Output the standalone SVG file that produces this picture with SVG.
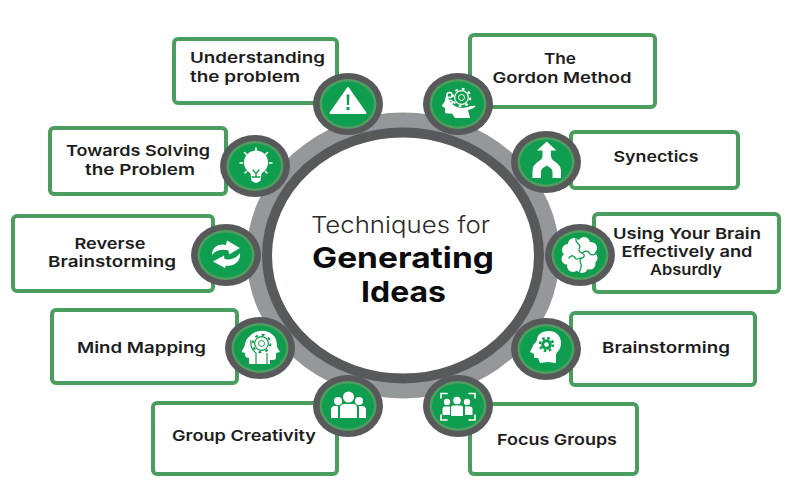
<svg xmlns="http://www.w3.org/2000/svg" width="800" height="500" viewBox="0 0 800 500">
<style>
.box{fill:#fff;stroke:#4a9d5e;stroke-width:4}
.lbl{font-family:Inter,"Liberation Sans",sans-serif;font-weight:600;font-size:15px;fill:#1d1d1d;text-anchor:middle}
.ttl{font-family:Inter,"Liberation Sans",sans-serif;font-weight:700;font-size:29px;fill:#0c0c0c;text-anchor:middle}
.w{fill:#fff}
.g{fill:#0f9d4f}
.ws{fill:none;stroke:#fff;stroke-width:1.6;stroke-linecap:round}
.gl{fill:none;stroke:#0f9d4f;stroke-width:1.3;stroke-linecap:round}
</style>
<defs>
<g id="badge">
<ellipse rx="35" ry="31" fill="#58595b"/>
<ellipse rx="28.500" ry="25" fill="#4f9e5f"/>
<ellipse rx="26" ry="22.500" fill="#0f9d4f"/>
</g>
<g id="gear">
<circle r="6.800" fill="none" stroke="currentColor" stroke-width="1.200"/>
<circle r="8.800" fill="none" stroke="currentColor" stroke-width="2" stroke-dasharray="2.800 4.110"/>
<circle r="3" fill="none" stroke="currentColor" stroke-width="1"/>
</g>
</defs>
<rect width="800" height="500" fill="#fff"/>
<g id="connectors">
<ellipse cx="403" cy="255.500" rx="148.500" ry="135" fill="none" stroke="#96979a" stroke-width="16"/>
<ellipse cx="403" cy="255.500" rx="136" ry="123" fill="#fff" stroke="#58595b" stroke-width="10"/>
</g>
<g id="center">
<text x="400.500" y="233" text-anchor="middle" font-family="Inter,'Liberation Sans',sans-serif" font-weight="300" font-size="23" fill="#2b2b2b" textLength="179" lengthAdjust="spacingAndGlyphs">Techniques for</text>
<text class="ttl" x="403" y="268" textLength="182" lengthAdjust="spacingAndGlyphs">Generating</text>
<text class="ttl" x="403.500" y="302" textLength="85" lengthAdjust="spacingAndGlyphs">Ideas</text>
</g>
<g id="n-understanding">
<rect class="box" x="174" y="39" width="163" height="64" rx="4"/>
<text class="lbl" x="257.500" y="63" textLength="135" lengthAdjust="spacingAndGlyphs">Understanding</text>
<text class="lbl" x="245" y="82" textLength="110" lengthAdjust="spacingAndGlyphs">the problem</text>
<use href="#badge" x="348" y="104"/>
<path class="w" d="M348 88L365.500 113H330.500Z" stroke="#fff" stroke-width="2" stroke-linejoin="round"/>
<path class="g" d="M346.600 94.500H349.400L349 105H347ZM346.500 107H349.500V110H346.500Z"/>
</g>
<g id="n-gordon">
<rect class="box" x="470" y="35" width="185" height="72" rx="4"/>
<text class="lbl" x="560" y="64" textLength="32" lengthAdjust="spacingAndGlyphs">The</text>
<text class="lbl" x="562" y="83" textLength="139" lengthAdjust="spacingAndGlyphs">Gordon Method</text>
<use href="#badge" x="458" y="104"/>
<path class="w" d="M447 94C445 98 445 100 445 101L441.700 106L445 108V112Q445 114 449 113.500H452L455 118H470L468 110C472 109 474 108 476 106C472 105 468 108 462 108C455 108 448 102 447 94Z"/>
<g transform="translate(461.500,97.500)" color="#fff"><use href="#gear"/></g>
<circle cx="449.500" cy="95" r="2.600" fill="none" stroke="#fff" stroke-width="1.500"/>
<circle cx="450" cy="102.500" r="2.300" fill="none" stroke="#fff" stroke-width="1.500"/>
</g>
<g id="n-towards">
<rect class="box" x="50" y="128" width="176" height="66" rx="4"/>
<text class="lbl" x="138" y="156" textLength="144" lengthAdjust="spacingAndGlyphs">Towards Solving</text>
<text class="lbl" x="140" y="175" textLength="110" lengthAdjust="spacingAndGlyphs">the Problem</text>
<use href="#badge" x="255" y="166"/>
<circle class="w" cx="256" cy="162.500" r="12"/>
<path class="w" d="M250 170H262L260.500 181L256 183L251.500 181Z"/>
<path class="gl" d="M253 170L256 173.500L259 170M256 173.500V176M252 177H260"/>
<path class="ws" d="M256 148V151M244.500 152.500L246.500 154.500M267.500 152.500L265.500 154.500M240 163H242.500M272 163H269.500M245 173L246.500 171.500M267 173L265.500 171.500"/>
</g>
<g id="n-synectics">
<rect class="box" x="571" y="132" width="167" height="56" rx="4"/>
<text class="lbl" x="656" y="162" textLength="85" lengthAdjust="spacingAndGlyphs">Synectics</text>
<use href="#badge" x="546" y="162"/>
<path class="w" d="M546.700 141.500L556.500 150.500H551V156Q551 159 554 161Q561 165 561 171V178H552.500V172Q552.500 169 549 167L546.700 165.500L544.500 167Q541 169 541 172V178H532.500V171Q532.500 165 539 161Q542.500 159 542.500 156V150.500H537Z"/>
</g>
<g id="n-reverse">
<rect class="box" x="13" y="216" width="200" height="75" rx="4"/>
<text class="lbl" x="110" y="249" textLength="71" lengthAdjust="spacingAndGlyphs">Reverse</text>
<text class="lbl" x="112" y="267" textLength="128" lengthAdjust="spacingAndGlyphs">Brainstorming</text>
<use href="#badge" x="226" y="255"/>
<path class="w" d="M212 255C212 247 219 243 226 245L227 240.500L240 248L229 254.500L228.500 250.500C222 249 216 250 212 255Z"/>
<path class="w" d="M240 253C241 262 233 267 226 265.500L225 268L213 261.500L224 255.500L224.500 259C231 260.500 237 258 240 253Z"/>
</g>
<g id="n-using">
<rect class="box" x="594" y="214" width="185" height="78" rx="4"/>
<text class="lbl" x="687" y="239" textLength="148" lengthAdjust="spacingAndGlyphs">Using Your Brain</text>
<text class="lbl" x="687" y="257" textLength="131" lengthAdjust="spacingAndGlyphs">Effectively and</text>
<text class="lbl" x="686" y="275" textLength="72" lengthAdjust="spacingAndGlyphs">Absurdly</text>
<use href="#badge" x="580" y="255"/>
<g class="w">
<circle cx="574" cy="244" r="6"/><circle cx="584" cy="243" r="6"/><circle cx="591" cy="248" r="6"/>
<circle cx="568" cy="250" r="6"/><circle cx="567" cy="259" r="5.500"/><circle cx="592" cy="258" r="5.500"/>
<circle cx="573" cy="266" r="6"/><circle cx="582" cy="267" r="6"/><circle cx="590" cy="264" r="5.500"/>
<circle cx="580" cy="255" r="10"/>
</g>
<path class="gl" d="M576 239C575 243 580 244 580 247C578 250 579 252 582 253C585 254 585 257 582 258C579 259 580 262 581 264C582 267 580 270 579 273M569 258C572 254 574 256 576 259C578 260 580 257 582 258M582 253C586 250 589 251 590 254C592 256 594 255 597 253"/>
</g>
<g id="n-mind">
<rect class="box" x="52" y="310" width="185" height="73" rx="4"/>
<text class="lbl" x="141.500" y="353" textLength="129" lengthAdjust="spacingAndGlyphs">Mind Mapping</text>
<use href="#badge" x="260" y="348"/>
<path class="w" d="M250 336C256 329 268 329 274 336C277 340 277 344 277 347L280 352L276 353V358C276 360 273 360 270 360V364H249V358C245 358 245 355 245 353L241.500 352L245 345C245 341 247 338 250 336Z"/>
<g transform="translate(261.500,343.500)" color="#0f9d4f"><use href="#gear"/></g>
<path d="M256 364V353C252 350 250 346 251 340M267 364V353" fill="none" stroke="#0f9d4f" stroke-width="1.200"/>
</g>
<g id="n-brainstorm">
<rect class="box" x="571" y="313" width="184" height="72" rx="4"/>
<text class="lbl" x="666" y="353" textLength="128" lengthAdjust="spacingAndGlyphs">Brainstorming</text>
<use href="#badge" x="546" y="349"/>
<path class="w" d="M537 340C537 334 543 331 549 331C557 331 561 337 561 343C561 349 558 351 556 354V363L548 362L540 363L538 358H534V354L530 352L533 346C533 344 536 343 537 340Z"/>
<g transform="translate(546.500,344.500)"><circle r="3.800" fill="none" stroke="#0f9d4f" stroke-width="3"/><circle r="6.500" fill="none" stroke="#0f9d4f" stroke-width="2.500" stroke-dasharray="2.500 2.600"/></g>
</g>
<g id="n-group">
<rect class="box" x="153" y="403" width="184" height="71" rx="4"/>
<text class="lbl" x="244" y="441" textLength="144" lengthAdjust="spacingAndGlyphs">Group Creativity</text>
<use href="#badge" x="348" y="406"/>
<g class="w">
<circle cx="338" cy="401" r="4"/><circle cx="359" cy="401" r="4"/>
<path d="M331 418V410Q331 406 335 406H338V418ZM359 406H362Q366 406 366 410V418H359Z"/>
<circle cx="348.500" cy="397" r="5.500"/>
<path d="M340 418V408Q340 404 344 404H353Q357 404 357 408V418Z"/>
</g>
</g>
<g id="n-focus">
<rect class="box" x="470" y="404" width="167" height="70" rx="4"/>
<text class="lbl" x="557" y="445" textLength="120" lengthAdjust="spacingAndGlyphs">Focus Groups</text>
<use href="#badge" x="458" y="406"/>
<g class="w">
<circle cx="447" cy="402" r="3.200"/><circle cx="467" cy="402" r="3.200"/><circle cx="457" cy="400.500" r="3.800"/>
<path d="M442.500 415V409Q442.500 406.500 445 406.500H450V415ZM465 406.500H470Q472.500 406.500 472.500 409V415H465Z"/>
<path d="M451 416V407.500Q451 405.500 453.500 405.500H460.500Q463 405.500 463 407.500V416Z"/>
</g>
<path class="ws" d="M441 398V393.500H447M475 398V393.500H469M441 415V420H447M475 415V420H469"/>
</g>
</svg>
